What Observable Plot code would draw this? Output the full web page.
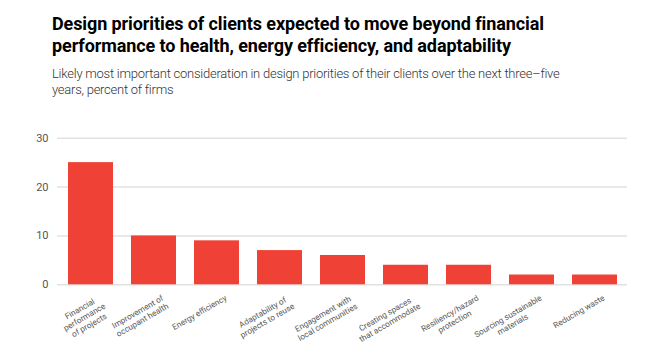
<!DOCTYPE html>
<html><head><meta charset="utf-8">
<script src="https://cdn.jsdelivr.net/npm/d3@7"></script>
<script src="https://cdn.jsdelivr.net/npm/@observablehq/plot@0.6"></script>
<style>
body{margin:0;background:#fff;width:653px;height:361px;overflow:hidden;font-family:Roboto,sans-serif}
#head{height:110px;box-sizing:border-box;padding:13px 0 0 52px}
h1{margin:0;font-family:Roboto,sans-serif;font-weight:700;font-size:18px;line-height:22px;color:#000;letter-spacing:-0.1px}
p{margin:9px 0 0;font-family:Roboto,sans-serif;font-weight:300;font-size:13px;line-height:16px;color:#333;letter-spacing:-0.25px}
#chart svg{display:block}
</style></head><body>
<div id="head">
<h1>Design priorities of clients expected to move beyond financial<br>performance to health, energy efficiency, and adaptability</h1>
<p>Likely most important consideration in design priorities of their clients over the next three–five<br>years, percent of firms</p>
</div>
<div id="chart"></div>
<script>
const categories = [
  "Financial performance of projects",
  "Improvement of occupant health",
  "Energy efficiency",
  "Adaptability of projects to reuse",
  "Engagement with local communities",
  "Creating spaces that accommodate",
  "Resiliency/hazard protection",
  "Sourcing sustainable materials",
  "Reducing waste"
];
const tickLabels = [
  "Financial\nperformance\nof projects",
  "Improvement of\noccupant health",
  "Energy efficiency",
  "Adaptability of\nprojects to reuse",
  "Engagement with\nlocal communities",
  "Creating spaces\nthat accommodate",
  "Resiliency/hazard\nprotection",
  "Sourcing sustainable\nmaterials",
  "Reducing waste"
];
const values = [25, 10, 9, 7, 6, 4, 4, 2, 2];
const yTicks = [0, 10, 20, 30];

const data = categories.map((c, i) => ({category: c, label: tickLabels[i], value: values[i]}));

const chart = Plot.plot({
  width: 653,
  height: 251,
  marginTop: 27.7,
  marginBottom: 76.7,
  marginLeft: 57,
  marginRight: 26,
  style: {fontFamily: "Roboto, sans-serif", background: "#fff", overflow: "visible"},
  x: {domain: categories, paddingInner: 0.29, paddingOuter: 0.15, axis: null},
  y: {domain: [0, 30], axis: null},
  marks: [
    Plot.ruleY(yTicks, {stroke: "#e2e2e2", strokeWidth: 1.5}),
    Plot.barY(data, {x: "category", y: "value", fill: "#ef4136"}),
    Plot.axisY({ticks: yTicks, tickSize: 0, tickPadding: 9, fontSize: 11, fill: "#555", label: null}),
    Plot.text(data, {
      x: "category", text: "label", frameAnchor: "bottom",
      rotate: -30, textAnchor: "end", lineAnchor: "top",
      dx: 7, dy: 9, fontSize: 8.2, fill: "#5a5a5a", lineHeight: 1.15
    })
  ]
});
document.getElementById("chart").appendChild(chart);

// center the lines of multi-line tick labels within their block
chart.querySelectorAll('g[aria-label="text"] text').forEach(t => {
  const spans = t.querySelectorAll("tspan");
  if (spans.length < 2) return;
  let maxW = 0;
  spans.forEach(s => { maxW = Math.max(maxW, s.getComputedTextLength()); });
  t.setAttribute("text-anchor", "middle");
  spans.forEach(s => s.setAttribute("x", -maxW / 2));
});
</script>
</body></html>
